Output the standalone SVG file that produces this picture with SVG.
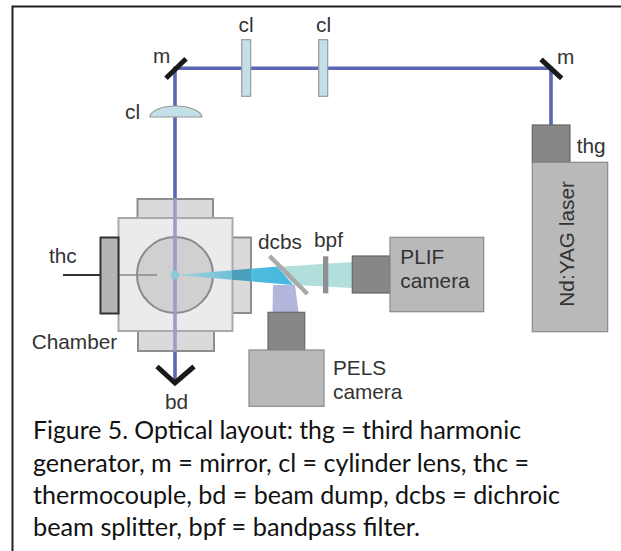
<svg xmlns="http://www.w3.org/2000/svg" width="621" height="551" viewBox="0 0 621 551">
<style>
text{font-family:"Liberation Sans",Arial,sans-serif;font-size:20.8px;fill:#333}
.cap{font-family:Lato,"Open Sans",sans-serif;font-size:25px;fill:#111}
.cam{fill:#b9b9b9;stroke:#8a8a8a;stroke-width:1.2}
.box{fill:#878787;stroke:#666;stroke-width:1.2}
.fl{fill:#dadada;stroke:#8e8e8e;stroke-width:2}
.len{fill:#c3dfe8;stroke:#999;stroke-width:1.2}
.mir{stroke:#1a1a1a;stroke-width:5;fill:none}
.bm{stroke:#5b67b5;stroke-width:3.6;fill:none}
</style>
<defs>
<linearGradient id="cone" gradientUnits="userSpaceOnUse" x1="178" y1="275" x2="290" y2="275">
<stop offset="0" stop-color="#a5d3dc"/><stop offset=".48" stop-color="#6fc0d6"/><stop offset=".48" stop-color="#4a9fbc"/><stop offset=".65" stop-color="#4a9fbc"/><stop offset=".65" stop-color="#4fbcde"/><stop offset="1" stop-color="#45b8e0"/>
</linearGradient>
</defs>
<g id="frame" fill="none" stroke="#222"><path d="M12.5 551V6.500H621" stroke-width="2"/></g>
<g id="connectors">
<path class="bm" d="M175 199V68.300H551V125"/>
<path class="bm" d="M175 351V383"/>
<polygon points="276,267 352,262 352,288 294,285" fill="#b2dfdb"/>
<polygon points="273,285 295,285 298.500,312 272.500,312" fill="#b3b5dd"/>
</g>
<g id="chamber">
<rect class="fl" x="137.500" y="199" width="75.500" height="19"/>
<rect class="fl" x="138" y="331" width="76" height="20"/>
<rect class="fl" x="232" y="237.500" width="19" height="75.500"/>
<rect x="118.500" y="218" width="114" height="113" fill="#ebebeb" stroke="#aaa" stroke-width="2"/>
<circle cx="175" cy="275" r="38" fill="#d0d0d0" stroke="#8a8a8a" stroke-width="2"/>
<path d="M118 275H157" stroke="#8a8a8a" stroke-width="1.600"/>
<path d="M175 199V351" stroke="#9a9dc8" stroke-width="3.600"/>
<polygon points="175,275 277,266.500 293,285" fill="url(#cone)"/>
<circle cx="175" cy="275" r="4.500" fill="#8fc8d8"/>
</g>
<g id="thermocouple">
<path d="M63 275H100" stroke="#333" stroke-width="2"/>
<rect x="100.500" y="237.500" width="18" height="76" fill="#b4b4b4" stroke="#333" stroke-width="2"/>
</g>
<g id="beam-dump"><path class="mir" d="M157 366.500L175 383L194 366.500"/></g>
<g id="mirror1"><path class="mir" d="M166 78.300L186 58.700"/></g>
<g id="mirror2"><path class="mir" d="M541 59.300L561.700 78.300"/></g>
<g id="lens1"><rect class="len" x="241.700" y="39.700" width="9" height="56.600"/></g>
<g id="lens2"><rect class="len" x="318.700" y="39.700" width="9" height="56.600"/></g>
<g id="lens3"><path class="len" d="M150 117C150 111 162 106 175.500 106C189 106 201.700 111 201.700 117Z"/></g>
<g id="dcbs"><path d="M269.500 256L307.500 294" stroke="#aaa" stroke-width="4.500"/></g>
<g id="bpf"><rect x="323" y="256.300" width="5.300" height="37" fill="#8f8f8f"/></g>
<g id="plif-camera">
<rect class="box" x="352.300" y="256" width="37.700" height="37"/>
<rect class="cam" x="390" y="237.300" width="93.700" height="74.400"/>
<text x="400.300" y="264">PLIF</text><text x="400.300" y="288">camera</text>
</g>
<g id="pels-camera">
<rect class="box" x="268" y="312.300" width="36.700" height="37.700"/>
<rect class="cam" x="249" y="350" width="75" height="56.300"/>
<text x="333" y="375">PELS</text><text x="333" y="399">camera</text>
</g>
<g id="laser">
<rect class="box" x="532.300" y="125" width="37.700" height="37.300"/>
<rect class="cam" x="532.300" y="162.300" width="75.400" height="169.400"/>
<text transform="translate(574 306.700) rotate(-90)">Nd:YAG laser</text>
</g>
<g id="labels">
<text x="238.500" y="32">cl</text><text x="316" y="32">cl</text>
<text x="153" y="63">m</text><text x="557" y="64">m</text>
<text x="125" y="119">cl</text><text x="576.700" y="153">thg</text>
<text x="49" y="263">thc</text><text x="31.700" y="349">Chamber</text>
<text x="258" y="249">dcbs</text><text x="314" y="247">bpf</text>
<text x="165" y="409">bd</text>
</g>
<g id="caption">
<text class="cap" x="33" y="439" textLength="488" lengthAdjust="spacingAndGlyphs">Figure 5. Optical layout: thg = third harmonic</text>
<text class="cap" x="33" y="472" textLength="496" lengthAdjust="spacingAndGlyphs">generator, m = mirror, cl = cylinder lens, thc =</text>
<text class="cap" x="33" y="504" textLength="527" lengthAdjust="spacingAndGlyphs">thermocouple, bd = beam dump, dcbs = dichroic</text>
<text class="cap" x="33" y="536" textLength="387" lengthAdjust="spacingAndGlyphs">beam splitter, bpf = bandpass filter.</text>
</g>
</svg>
